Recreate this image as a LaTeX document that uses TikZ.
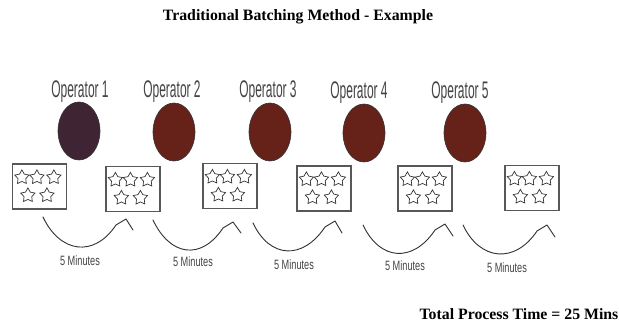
\documentclass[tikz,border=0pt]{standalone}
\usepackage{fontspec}
\setmainfont{Liberation Serif}
\newfontfamily\opfont[FakeStretch=0.5]{Liberation Sans}
\newfontfamily\minfont[FakeStretch=0.68]{Liberation Sans}
\usetikzlibrary{shapes.geometric}

\definecolor{labelgray}{HTML}{444444}
\definecolor{firstop}{HTML}{3F2434}
\definecolor{otherop}{HTML}{662219}
\definecolor{boxgray}{HTML}{585858}
\definecolor{stargray}{HTML}{333333}
\definecolor{arcgray}{HTML}{303030}

\tikzset{
  headline/.style={font=\bfseries\fontsize{15.8}{18}\selectfont, text=black, inner sep=0},
  oplabel/.style={font=\opfont\fontsize{24}{25}\selectfont, text=labelgray, inner sep=0},
  minlabel/.style={font=\minfont\fontsize{13.5}{14}\selectfont, text=labelgray, inner sep=0},
  operator/.style={ellipse, draw=black!80, line width=0.6pt, minimum width=42pt, minimum height=58pt, inner sep=0},
  batch/.style={draw=boxgray, line width=1.2pt, minimum width=54pt, minimum height=45pt, inner sep=0},
  part/.style={star, star points=5, star point ratio=1.85, draw=stargray, line width=0.7pt, minimum size=15pt, inner sep=0},
  flow/.style={draw=arcgray, line width=0.9pt, line cap=round, line join=round}
}

\begin{document}
\begin{tikzpicture}[x=1pt,y=-1pt]
\useasboundingbox (0,0) rectangle (619,326);
\fill[white] (0,0) rectangle (619,326);

% headings
\node[headline] (title) at (298,17) {Traditional Batching Method - Example};
\node[headline] (total) at (519,314) {Total Process Time = 25 Mins};

% operators
\node[oplabel] (op1) at (80,92) {Operator 1};
\node[oplabel] (op2) at (172,92) {Operator 2};
\node[oplabel] (op3) at (268,92) {Operator 3};
\node[oplabel] (op4) at (359,93) {Operator 4};
\node[oplabel] (op5) at (460,93) {Operator 5};

\node[operator, fill=firstop] (e1) at (79,131) {};
\node[operator, fill=otherop] (e2) at (174,132) {};
\node[operator, fill=otherop] (e3) at (270,132) {};
\node[operator, fill=otherop] (e4) at (364,133) {};
\node[operator, fill=otherop] (e5) at (465,133) {};

% batches of five parts
\node[batch] (b1) at (39.5,186.5) {};
\node[batch] (b2) at (133,189) {};
\node[batch] (b3) at (230,186) {};
\node[batch] (b4) at (324,188.5) {};
\node[batch] (b5) at (425,188.5) {};
\node[batch] (b6) at (532,188) {};

\foreach \b in {1,...,6}{
  \node[part] (s\b a) at ([shift={(10,14)}]b\b.north west) {};
  \node[part] (s\b b) at ([shift={(25,14)}]b\b.north west) {};
  \node[part] (s\b c) at ([shift={(42,14)}]b\b.north west) {};
  \node[part] (s\b d) at ([shift={(16,32)}]b\b.north west) {};
  \node[part] (s\b e) at ([shift={(35,32)}]b\b.north west) {};
}

% transfer arcs between stations: start, tip, barb end
\coordinate (f1) at (43,217);  \coordinate (g1) at (126,219); \coordinate (h1) at (133,230);
\coordinate (f2) at (153,220); \coordinate (g2) at (233,222); \coordinate (h2) at (241,233);
\coordinate (f3) at (253,223); \coordinate (g3) at (335,221); \coordinate (h3) at (342,233);
\coordinate (f4) at (363,225); \coordinate (g4) at (445,224); \coordinate (h4) at (453,236);
\coordinate (f5) at (463,225); \coordinate (g5) at (547,225); \coordinate (h5) at (555,237);

\foreach \a in {1,...,5}{
  \coordinate (p\a) at ([shift={(-10,6)}]g\a);
  \draw[flow] (f\a) .. controls ([shift={(17,36)}]f\a) and ([shift={(-22,33)}]p\a) .. (p\a)
    -- (g\a) -- (h\a);
}

\node[minlabel] (t1) at (80,261) {5 Minutes};
\node[minlabel] (t2) at (193,262) {5 Minutes};
\node[minlabel] (t3) at (294,265) {5 Minutes};
\node[minlabel] (t4) at (405,266) {5 Minutes};
\node[minlabel] (t5) at (507,268) {5 Minutes};
\end{tikzpicture}
\end{document}
